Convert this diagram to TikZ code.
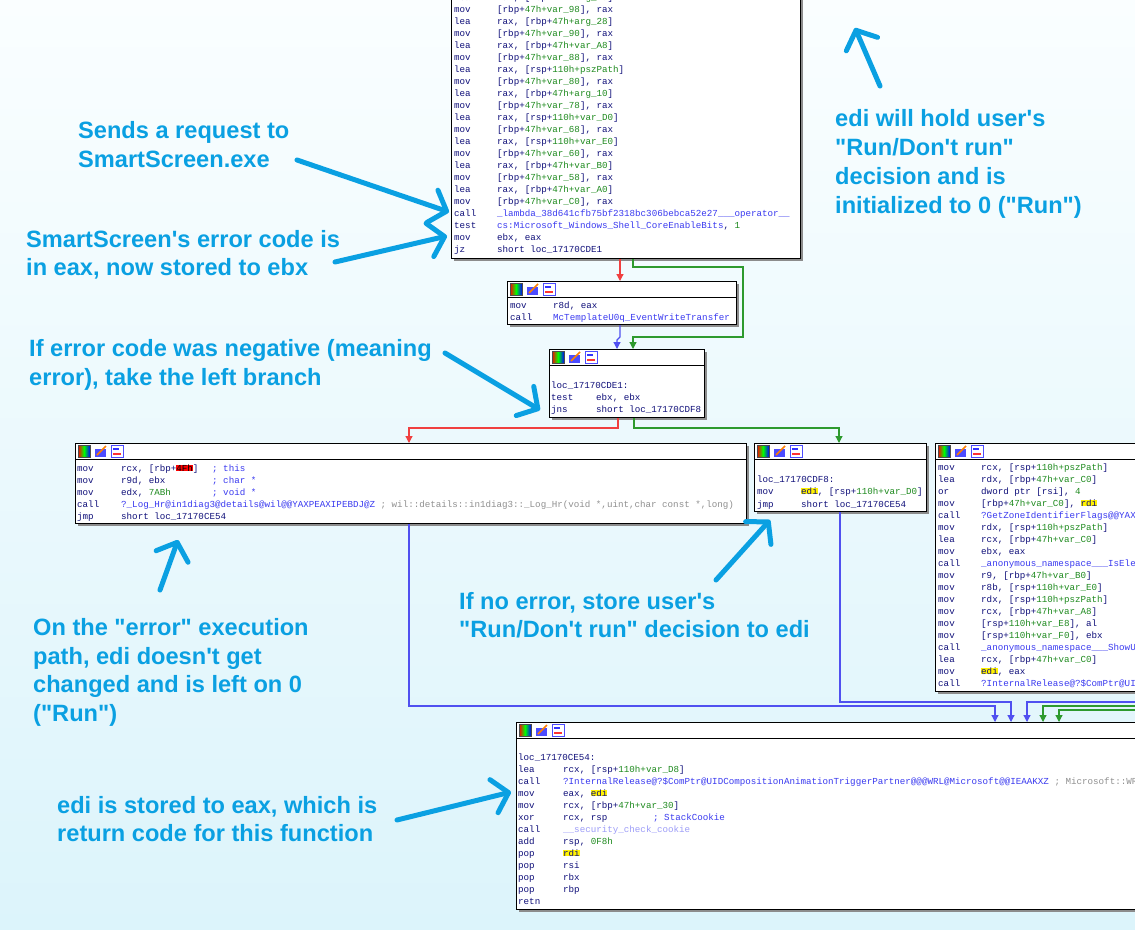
\documentclass[tikz,border=0pt]{standalone}
\usepackage{fontspec}
\usetikzlibrary{arrows.meta}
\newfontfamily\cf{Liberation Mono}
\newfontfamily\af{Liberation Sans}
\definecolor{bgtop}{HTML}{FAFEFF}
\definecolor{bgbot}{HTML}{DCF4FB}
\definecolor{nv}{HTML}{10107A}
\definecolor{gr}{HTML}{1E8A1E}
\definecolor{fn}{HTML}{3A3AF0}
\definecolor{cm}{HTML}{909090}
\definecolor{ann}{HTML}{0AA0E2}
\definecolor{hly}{HTML}{FFF200}
\definecolor{ered}{HTML}{F04040}
\definecolor{egrn}{HTML}{2E9A2E}
\definecolor{eblu}{HTML}{5050F0}
\setlength\fboxsep{0pt}
\newcommand\hlt[1]{\colorbox{hly}{#1}}
\newcommand\grn[1]{\textcolor{gr}{#1}}
\newcommand\mm[2]{[#1+\textcolor{gr}{#2}]}
\newcommand\cdl[4]{\node[code] at (#1,#2) {#3};\node[code] at (#1+43,#2) {#4};}
\newcommand\icons[2]{%
  \shade[left color=red,right color=blue,middle color=green] (#1+3,#2+2) rectangle (#1+15,#2+14);
  \draw[black!70] (#1+3,#2+2) rectangle (#1+15,#2+14);
  \fill[blue!70] (#1+20,#2+6) rectangle (#1+31,#2+14);
  \draw[orange,line width=1.5pt] (#1+22,#2+12) -- (#1+31,#2+3);
  \draw[blue!70,fill=white] (#1+36,#2+2) rectangle (#1+48,#2+14);
  \fill[red!80] (#1+38,#2+10) rectangle (#1+46,#2+11.5);
  \fill[blue!80] (#1+38,#2+5) rectangle (#1+44,#2+6.5);}
\newcommand\blk[6]{% name x1 y1 x2 y2 header(1/0)
  \fill[black!45] (#2+3,#3+3) rectangle (#4+3,#5+3);
  \node[block,minimum width=#4-#2,minimum height=#5-#3,anchor=north west] (#1) at (#2,#3) {};
  \ifnum#6=1 \draw[black] (#2,#3+16) -- (#4,#3+16); \icons{#2}{#3}\fi}
\newcommand\anno[4]{\node[annot] (#1) at (#2,#3) {#4};}
\tikzset{
  x=1pt,y=-1pt,
  code/.style={anchor=base west,yshift=-3.3pt,inner sep=0pt,font=\cf\fontsize{9.2}{11}\selectfont,text=nv},
  block/.style={draw=black,line width=1pt,fill=white,inner sep=0pt},
  annot/.style={anchor=base west,inner sep=0pt,font=\af\bfseries\fontsize{23.6}{28}\selectfont,text=ann},
  hand/.style={draw=ann,line width=5pt,line cap=round,-{Straight Barb[length=15pt,width=34pt,line width=5pt,round]}},
  edge/.style={line width=1.2pt,-{Triangle[length=7pt,width=7pt]}},
}
\begin{document}
\begin{tikzpicture}
\useasboundingbox (0,0) rectangle (1135,929);
\clip (0,0) rectangle (1135,929);
\shade[top color=bgtop,bottom color=bgbot] (0,0) rectangle (1135,929);

% ---------- top block
\blk{b1}{451}{-300}{800}{258}{0}
\cdl{454}{-3}{lea}{rax, \mm{rbp}{47h+arg\_20}}
\cdl{454}{9}{mov}{\mm{rbp}{47h+var\_98}, rax}
\cdl{454}{21}{lea}{rax, \mm{rbp}{47h+arg\_28}}
\cdl{454}{33}{mov}{\mm{rbp}{47h+var\_90}, rax}
\cdl{454}{45}{lea}{rax, \mm{rbp}{47h+var\_A8}}
\cdl{454}{57}{mov}{\mm{rbp}{47h+var\_88}, rax}
\cdl{454}{69}{lea}{rax, \mm{rsp}{110h+pszPath}}
\cdl{454}{81}{mov}{\mm{rbp}{47h+var\_80}, rax}
\cdl{454}{93}{lea}{rax, \mm{rbp}{47h+arg\_10}}
\cdl{454}{105}{mov}{\mm{rbp}{47h+var\_78}, rax}
\cdl{454}{117}{lea}{rax, \mm{rsp}{110h+var\_D0}}
\cdl{454}{129}{mov}{\mm{rbp}{47h+var\_68}, rax}
\cdl{454}{141}{lea}{rax, \mm{rsp}{110h+var\_E0}}
\cdl{454}{153}{mov}{\mm{rbp}{47h+var\_60}, rax}
\cdl{454}{165}{lea}{rax, \mm{rbp}{47h+var\_B0}}
\cdl{454}{177}{mov}{\mm{rbp}{47h+var\_58}, rax}
\cdl{454}{189}{lea}{rax, \mm{rbp}{47h+var\_A0}}
\cdl{454}{201}{mov}{\mm{rbp}{47h+var\_C0}, rax}
\cdl{454}{213}{call}{\textcolor{fn}{\_lambda\_38d641cfb75bf2318bc306bebca52e27\_\_\_operator\_\_}}
\cdl{454}{225}{test}{\textcolor{fn}{cs:Microsoft\_Windows\_Shell\_CoreEnableBits}, \grn{1}}
\cdl{454}{237}{mov}{ebx, eax}
\cdl{454}{249}{jz}{short loc\_17170CDE1}

% ---------- block 2
\blk{b2}{507}{281}{736}{324}{1}
\cdl{510}{305}{mov}{r8d, eax}
\cdl{510}{317}{call}{\textcolor{fn}{McTemplateU0q\_EventWriteTransfer}}

% ---------- block 3
\blk{b3}{549}{349}{704}{417}{1}
\node[code] at (551,385) {loc\_17170CDE1:};
\node[code] at (551,397) {test};\node[code] at (596,397) {ebx, ebx};
\node[code] at (551,409) {jns};\node[code] at (596,409) {short loc\_17170CDF8};

% ---------- block 4 (left)
\blk{b4}{75}{443}{746}{523}{1}
\node[code] at (77,468) {mov};\node[code] at (121,468) {rcx, [rbp+\colorbox{red}{\textcolor{black}{4Fh}}]};\node[code,text=fn] at (212,468) {; this};
\node[code] at (77,480) {mov};\node[code] at (121,480) {r9d, ebx};\node[code,text=fn] at (212,480) {; char *};
\node[code] at (77,492) {mov};\node[code] at (121,492) {edx, \grn{7ABh}};\node[code,text=fn] at (212,492) {; void *};
\node[code] at (77,504) {call};\node[code] at (121,504) {\textcolor{fn}{?\_Log\_Hr@in1diag3@details@wil@@YAXPEAXIPEBDJ@Z} \textcolor{cm}{; wil::details::in1diag3::\_Log\_Hr(void *,uint,char const *,long)}};
\node[code] at (77,516) {jmp};\node[code] at (121,516) {short loc\_17170CE54};

% ---------- block 5
\blk{b5}{754}{443}{926}{511}{1}
\node[code] at (757,479) {loc\_17170CDF8:};
\node[code] at (757,491) {mov};\node[code] at (801,491) {\hlt{edi}, \mm{rsp}{110h+var\_D0}};
\node[code] at (757,504) {jmp};\node[code] at (801,504) {short loc\_17170CE54};

% ---------- block 6 (right, cut)
\blk{b6}{935}{443}{1160}{691}{1}
\node[code] at (938,467) {mov};\node[code] at (981,467) {rcx, \mm{rsp}{110h+pszPath}};
\node[code] at (938,479) {lea};\node[code] at (981,479) {rdx, \mm{rbp}{47h+var\_C0}};
\node[code] at (938,491) {or};\node[code] at (981,491) {dword ptr [rsi], \grn{4}};
\node[code] at (938,503) {mov};\node[code] at (981,503) {\mm{rbp}{47h+var\_C0}, \hlt{rdi}};
\node[code] at (938,515) {call};\node[code] at (981,515) {\textcolor{fn}{?GetZoneIdentifierFlags@@YAXZ}};
\node[code] at (938,527) {mov};\node[code] at (981,527) {rdx, \mm{rsp}{110h+pszPath}};
\node[code] at (938,539) {lea};\node[code] at (981,539) {rcx, \mm{rbp}{47h+var\_C0}};
\node[code] at (938,551) {mov};\node[code] at (981,551) {ebx, eax};
\node[code] at (938,563) {call};\node[code] at (981,563) {\textcolor{fn}{\_anonymous\_namespace\_\_\_IsElevated}};
\node[code] at (938,575) {mov};\node[code] at (981,575) {r9, \mm{rbp}{47h+var\_B0}};
\node[code] at (938,587) {mov};\node[code] at (981,587) {r8b, \mm{rsp}{110h+var\_E0}};
\node[code] at (938,599) {mov};\node[code] at (981,599) {rdx, \mm{rsp}{110h+pszPath}};
\node[code] at (938,611) {mov};\node[code] at (981,611) {rcx, \mm{rbp}{47h+var\_A8}};
\node[code] at (938,623) {mov};\node[code] at (981,623) {\mm{rsp}{110h+var\_E8}, al};
\node[code] at (938,635) {mov};\node[code] at (981,635) {\mm{rsp}{110h+var\_F0}, ebx};
\node[code] at (938,647) {call};\node[code] at (981,647) {\textcolor{fn}{\_anonymous\_namespace\_\_\_ShowUI}};
\node[code] at (938,659) {lea};\node[code] at (981,659) {rcx, \mm{rbp}{47h+var\_C0}};
\node[code] at (938,671) {mov};\node[code] at (981,671) {\hlt{edi}, eax};
\node[code] at (938,683) {call};\node[code] at (981,683) {\textcolor{fn}{?InternalRelease@?\$ComPtr@UI}};

% ---------- block 7
\blk{b7}{516}{722}{1160}{909}{1}
\node[code] at (518,757) {loc\_17170CE54:};
\node[code] at (518,769) {lea};\node[code] at (563,769) {rcx, \mm{rsp}{110h+var\_D8}};
\node[code] at (518,781) {call};\node[code] at (563,781) {\textcolor{fn}{?InternalRelease@?\$ComPtr@UIDCompositionAnimationTriggerPartner@@@WRL@Microsoft@@IEAAKXZ} \textcolor{cm}{; Microsoft::WRL}};
\node[code] at (518,793) {mov};\node[code] at (563,793) {eax, \hlt{edi}};
\node[code] at (518,805) {mov};\node[code] at (563,805) {rcx, \mm{rbp}{47h+var\_30}};
\node[code] at (518,817) {xor};\node[code] at (563,817) {rcx, rsp};\node[code,text=fn] at (653,817) {; StackCookie};
\node[code] at (518,829) {call};\node[code] at (563,829) {\textcolor{fn!50}{\_\_security\_check\_cookie}};
\node[code] at (518,841) {add};\node[code] at (563,841) {rsp, \grn{0F8h}};
\node[code] at (518,853) {pop};\node[code] at (563,853) {\hlt{rdi}};
\node[code] at (518,865) {pop};\node[code] at (563,865) {rsi};
\node[code] at (518,877) {pop};\node[code] at (563,877) {rbx};
\node[code] at (518,889) {pop};\node[code] at (563,889) {rbp};
\node[code] at (518,901) {retn};

% ---------- edges
\draw[edge,ered] (b1.south -| 620,0) -- (620,281);
\draw[edge,egrn] (b1.south -| 633,0) -- (633,267) -- (743,267) -- (743,337) -- (633,337) -- (633,349);
\draw[edge,eblu] (b2.south -| 620,0) -- (620,337) -- (617,340) -- (617,349);
\draw[edge,ered] (b3.south -| 618,0) -- (618,428) -- (409,428) -- (409,443);
\draw[edge,egrn] (b3.south -| 634,0) -- (634,428) -- (839,428) -- (839,443);
\draw[edge,eblu] (b4.south -| 409,0) -- (409,706) -- (995,706) -- (995,722);
\draw[edge,eblu] (b5.south -| 840,0) -- (840,702) -- (1011,702) -- (1011,722);
\draw[edge,eblu] (1140,702) -- (1027,702) -- (1027,722);
\draw[edge,egrn] (1140,706) -- (1043,706) -- (1043,722);
\draw[edge,egrn] (1140,710) -- (1059,710) -- (1059,722);

% ---------- annotations
\anno{a1}{78}{138}{Sends a request to}
\anno{a2}{78}{167}{SmartScreen.exe}
\anno{a3}{26}{247}{SmartScreen's error code is}
\anno{a4}{26}{275}{in eax, now stored to ebx}
\anno{a5}{835}{126}{edi will hold user's}
\anno{a6}{835}{155}{"Run/Don't run"}
\anno{a7}{835}{184}{decision and is}
\anno{a8}{835}{213}{initialized to 0 ("Run")}
\anno{a9}{29}{356}{If error code was negative (meaning}
\anno{a10}{29}{385}{error), take the left branch}
\anno{a11}{33}{635}{On the "error" execution}
\anno{a12}{33}{664}{path, edi doesn't get}
\anno{a13}{33}{692}{changed and is left on 0}
\anno{a14}{33}{721}{("Run")}
\anno{a15}{459}{609}{If no error, store user's}
\anno{a16}{459}{637}{"Run/Don't run" decision to edi}
\anno{a17}{57}{813}{edi is stored to eax, which is}
\anno{a18}{57}{841}{return code for this function}

\coordinate (t1) at (449,212); \coordinate (t2) at (447,236);
\coordinate (t3) at (855,28); \coordinate (t4) at (540,410);
\coordinate (t5) at (178,540); \coordinate (t6) at (770,520);
\coordinate (t7) at (511,792);
\draw[hand] (297,160) -- (t1);
\draw[hand] (335,262) -- (t2);
\draw[hand] (880,86) -- (t3);
\draw[hand] (445,353) -- (t4);
\draw[hand] (160,590) -- (t5);
\draw[hand] (716,580) -- (t6);
\draw[hand] (397,820) -- (t7);
\end{tikzpicture}
\end{document}
